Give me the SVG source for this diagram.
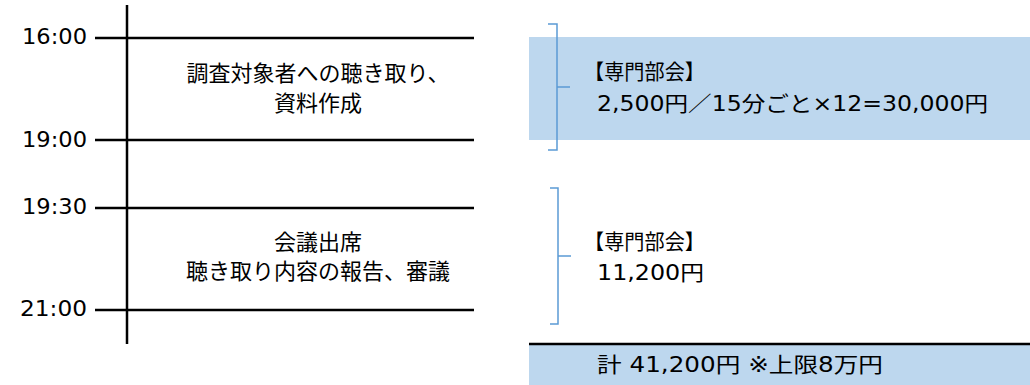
<svg xmlns="http://www.w3.org/2000/svg" width="1030" height="385" viewBox="0 0 1030 385">
<style>
.t{font-family:"DejaVu Sans","Noto Sans CJK JP",sans-serif;fill:#000}
.j{font-family:"Noto Sans CJK JP","Noto Sans",sans-serif;fill:#000}
.tm{font-size:21px}
.blk{font-size:22px;text-anchor:middle}
.rt{font-size:21px}
.ln{stroke:#000;stroke-width:2.5;fill:none}
.br{stroke:#5B9BD5;stroke-width:1.5;fill:none}
</style>
<rect width="1030" height="385" fill="#fff"/>
<g id="timeline">
<line class="ln" x1="127" y1="5" x2="127" y2="344"/>
</g>
<g id="t1600"><line class="ln" x1="95" y1="38" x2="474" y2="38"/><text class="t tm" x="22" y="44" textLength="65" lengthAdjust="spacingAndGlyphs">16:00</text></g>
<g id="t1900"><line class="ln" x1="95" y1="140" x2="474" y2="140"/><text class="t tm" x="22" y="147" textLength="65" lengthAdjust="spacingAndGlyphs">19:00</text></g>
<g id="t1930"><line class="ln" x1="95" y1="208" x2="474" y2="208"/><text class="t tm" x="22" y="214" textLength="65" lengthAdjust="spacingAndGlyphs">19:30</text></g>
<g id="t2100"><line class="ln" x1="95" y1="310" x2="474" y2="310"/><text class="t tm" x="20" y="316" textLength="67" lengthAdjust="spacingAndGlyphs">21:00</text></g>
<g id="task1">
<text class="j blk" x="318" y="81">調査対象者への聴き取り、</text>
<text class="j blk" x="318" y="111">資料作成</text>
</g>
<g id="task2">
<text class="j blk" x="318" y="250">会議出席</text>
<text class="j blk" x="318" y="279">聴き取り内容の報告、審議</text>
</g>
<g id="fee1">
<rect x="529" y="37" width="501" height="103" fill="#BDD7EE"/>
<text class="j rt" x="584" y="79" textLength="121" lengthAdjust="spacingAndGlyphs">【専門部会】</text>
<text class="t rt" x="597" y="111" textLength="391" lengthAdjust="spacingAndGlyphs">2,500円／15分ごと×12=30,000円</text>
</g>
<g id="fee2">
<text class="j rt" x="584" y="249" textLength="121" lengthAdjust="spacingAndGlyphs">【専門部会】</text>
<text class="t rt" x="597" y="280" textLength="107" lengthAdjust="spacingAndGlyphs">11,200円</text>
</g>
<g id="total">
<rect x="529" y="343" width="501" height="42" fill="#BDD7EE"/>
<line x1="529" y1="344" x2="1030" y2="344" stroke="#000" stroke-width="2.5"/>
<text class="t rt" x="597" y="372" textLength="286" lengthAdjust="spacingAndGlyphs">計 41,200円 ※上限8万円</text>
</g>
<g id="connectors">
<path class="br" d="M548,24 H557 V150 H548 M557,87 H570"/>
<path class="br" d="M550,188 H558 V324 H550 M558,256 H571"/>
</g>
</svg>
